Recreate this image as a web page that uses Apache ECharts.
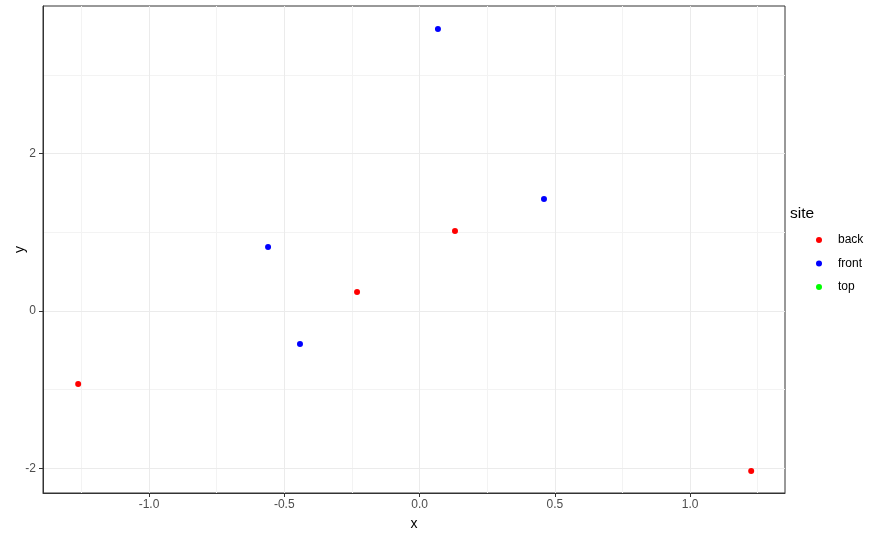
<!DOCTYPE html>
<html>
<head>
<meta charset="utf-8">
<script src="https://cdn.jsdelivr.net/npm/echarts@6/dist/echarts.min.js"></script>
<style>html,body{margin:0;padding:0;background:#fff}#c{width:878px;height:538px}</style>
</head>
<body>
<div id="c"></div>
<script>
const backX = [-1.262, -0.231, 0.131, 1.226];
const backY = [-0.928, 0.242, 1.017, -2.034];
const frontX = [-0.560, -0.442, 0.068, 0.460];
const frontY = [0.814, -0.420, 3.585, 1.424];
const topX = [];
const topY = [];
const xMajor = [-1.0, -0.5, 0.0, 0.5, 1.0];
const xMinor = [-1.25, -0.75, -0.25, 0.25, 0.75, 1.25];
const yMajor = [-2, 0, 2];
const yMinor = [-1, 1, 3];
const xRange = [-1.392, 1.351];
const yRange = [-2.314, 3.878];

const FONT = 'Liberation Sans, Arial, sans-serif';
const pts = (xs, ys) => xs.map((x, i) => [x, ys[i]]);
const gridLines = [];
xMinor.forEach(v => gridLines.push({xAxis: v, lineStyle: {color: '#F3F3F3', width: 1, type: 'solid'}}));
yMinor.forEach(v => gridLines.push({yAxis: v, lineStyle: {color: '#F3F3F3', width: 1, type: 'solid'}}));
xMajor.forEach(v => gridLines.push({xAxis: v, lineStyle: {color: '#EBEBEB', width: 1, type: 'solid'}}));
yMajor.forEach(v => gridLines.push({yAxis: v, lineStyle: {color: '#EBEBEB', width: 1, type: 'solid'}}));

const chart = echarts.init(document.getElementById('c'), null, {renderer: 'canvas'});
chart.setOption({
  animation: false,
  backgroundColor: '#fff',
  title: {text: 'site', left: 790, top: 206, padding: 0, textStyle: {fontFamily: FONT, fontSize: 15.5, fontWeight: 'normal', color: '#000'}},
  legend: {
    orient: 'vertical', left: 816, top: 233, padding: 0, itemWidth: 6, itemHeight: 6, itemGap: 9.5,
    icon: 'circle',
    textStyle: {fontFamily: FONT, fontSize: 12, color: '#000', lineHeight: 14, padding: [0, 0, 0, 11]},
    data: ['back', 'front', 'top']
  },
  grid: {left: 43, right: 93, top: 6, bottom: 45, show: true, borderColor: '#333333', borderWidth: 1, containLabel: false, outerBoundsMode: 'none'},
  xAxis: {
    type: 'value', min: xRange[0], max: xRange[1],
    name: 'x', nameLocation: 'middle', nameGap: 24, nameMoveOverlap: false,
    nameTextStyle: {fontFamily: FONT, fontSize: 14, color: '#000'},
    axisLine: {show: true, onZero: false, lineStyle: {color: '#333333', width: 1}},
    axisTick: {show: true, length: 4, customValues: xMajor, lineStyle: {color: '#333333'}},
    axisLabel: {customValues: xMajor, margin: 6, fontFamily: FONT, fontSize: 12, color: '#4D4D4D', formatter: v => v.toFixed(1)},
    splitLine: {show: false}
  },
  yAxis: {
    type: 'value', min: yRange[0], max: yRange[1],
    name: 'y', nameLocation: 'middle', nameGap: 16, nameMoveOverlap: false,
    nameTextStyle: {fontFamily: FONT, fontSize: 14, color: '#000'},
    axisLine: {show: true, onZero: false, lineStyle: {color: '#333333', width: 1}},
    axisTick: {show: true, length: 4, customValues: yMajor, lineStyle: {color: '#333333'}},
    axisLabel: {customValues: yMajor, margin: 7, fontFamily: FONT, fontSize: 12, color: '#4D4D4D', formatter: v => String(Math.round(v))},
    splitLine: {show: false}
  },
  series: [
    {type: 'scatter', name: 'grid', data: [], z: 0, silent: true,
     markLine: {silent: true, symbol: 'none', label: {show: false}, animation: false, z: 0, data: gridLines}},
    {type: 'scatter', name: 'back', data: pts(backX, backY), symbolSize: 6, itemStyle: {color: '#FF0000', opacity: 1}, z: 3},
    {type: 'scatter', name: 'front', data: pts(frontX, frontY), symbolSize: 6, itemStyle: {color: '#0000FF', opacity: 1}, z: 3},
    {type: 'scatter', name: 'top', data: pts(topX, topY), symbolSize: 6, itemStyle: {color: '#00FF00', opacity: 1}, z: 3}
  ]
});
</script>
</body>
</html>
